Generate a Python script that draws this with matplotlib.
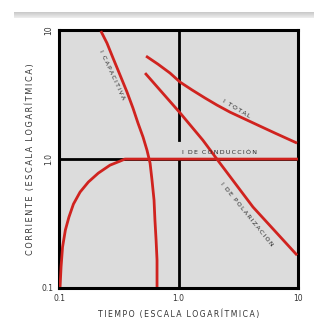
import numpy as np
import matplotlib
matplotlib.use('Agg')
import matplotlib.pyplot as plt

# datos (escala log-log)
cap_t = [0.224, 0.252, 0.283, 0.324, 0.371, 0.416, 0.458, 0.505, 0.545,
         0.578, 0.600, 0.624, 0.635, 0.649, 0.661, 0.661]
cap_i = [9.82, 7.92, 6.07, 4.48, 3.30, 2.48, 1.90, 1.48, 1.17,
         0.931, 0.687, 0.481, 0.336, 0.236, 0.165, 0.102]

cond_t = [0.102, 0.104, 0.107, 0.113, 0.121, 0.132, 0.150, 0.176, 0.213,
          0.267, 0.324, 0.356, 10.0]
cond_i = [0.102, 0.146, 0.208, 0.282, 0.355, 0.448, 0.555, 0.664, 0.778,
          0.897, 0.964, 1.0, 1.0]

total_t = [0.535, 0.673, 0.849, 1.03, 1.30, 1.67, 2.10, 2.70, 3.60, 4.81, 6.42, 9.82]
total_i = [6.28, 5.44, 4.64, 3.95, 3.43, 2.97, 2.62, 2.31, 2.04, 1.80, 1.59, 1.33]

pol_t = [0.525, 1.03, 1.60, 2.22, 4.20, 9.82]
pol_i = [4.64, 2.28, 1.40, 0.931, 0.425, 0.180]

xticks = [0.1, 1.0, 10]
xtick_labels = ['0.1', '1.0', '10']
yticks = [0.1, 1.0, 10]
ytick_labels = ['0.1', '1.0', '10']

RED = '#d0231f'
GRAY_BG = '#dcdcdc'
TS = '\u2009'  # espacio fino entre letras


def espaciado(s):
    return '  '.join(TS.join(w) for w in s.split(' '))


fig = plt.figure(figsize=(3.14, 3.23), dpi=100)
fig.patch.set_facecolor('white')

# franja gris superior (sombra)
band = fig.add_axes([0.045, 0.943, 0.955, 0.021])
grad = np.vstack([np.linspace(0.76, 0.93, 20)] * 2).T
band.imshow(grad, aspect='auto', cmap='gray', vmin=0, vmax=1,
            extent=[0, 1, 0, 1])
band.axis('off')

ax = fig.add_axes([0.188, 0.108, 0.761, 0.799])
ax.set_facecolor(GRAY_BG)
ax.set_xscale('log')
ax.set_yscale('log')
ax.set_xlim(0.1, 10)
ax.set_ylim(0.1, 10)

# ejes internos
ax.axhline(1.0, color='black', lw=2.0, zorder=2)
ax.axvline(1.0, ymin=0, ymax=0.5, color='black', lw=2.0, zorder=2)
ax.axvline(1.0, ymin=0.574, ymax=1, color='black', lw=2.0, zorder=2)

for xs, ys in [(cap_t, cap_i), (cond_t, cond_i), (total_t, total_i), (pol_t, pol_i)]:
    ax.plot(xs, ys, color=RED, lw=2.0, zorder=3, solid_capstyle='butt',
            solid_joinstyle='round')

tfont = dict(fontsize=4.5, color='#2a2a2a', ha='center', va='center')
ax.text(0.278, 4.48, espaciado('I CAPACITIVA'), rotation=-65, **tfont)
ax.text(3.03, 2.44, espaciado('I TOTAL'), rotation=-31, **tfont)
ax.text(2.22, 1.13, espaciado('I DE CONDUCCIÓN'), rotation=0, **tfont)
ax.text(3.74, 0.375, espaciado('I DE POLARIZACIÓN'), rotation=-51, **tfont)

for s in ax.spines.values():
    s.set_linewidth(2.2)
    s.set_color('black')

ax.set_xticks(xticks)
ax.set_xticklabels(xtick_labels)
ax.set_yticks(yticks)
ax.set_yticklabels(ytick_labels)
for lab, rot in zip(ax.get_yticklabels(), [0, 90, 90]):
    lab.set_rotation(rot)
    lab.set_va('center')
ax.minorticks_off()
ax.tick_params(length=0, labelsize=5.5, pad=4, colors='#333333')

ax.set_xlabel(espaciado('TIEMPO (ESCALA LOGARÍTMICA)'), fontsize=5.6,
              color='#333333', labelpad=5)
ax.set_ylabel(espaciado('CORRIENTE (ESCALA LOGARÍTMICA)'), fontsize=5.9,
              color='#333333', labelpad=5)

fig.savefig('out.png', dpi=100, facecolor='white')
